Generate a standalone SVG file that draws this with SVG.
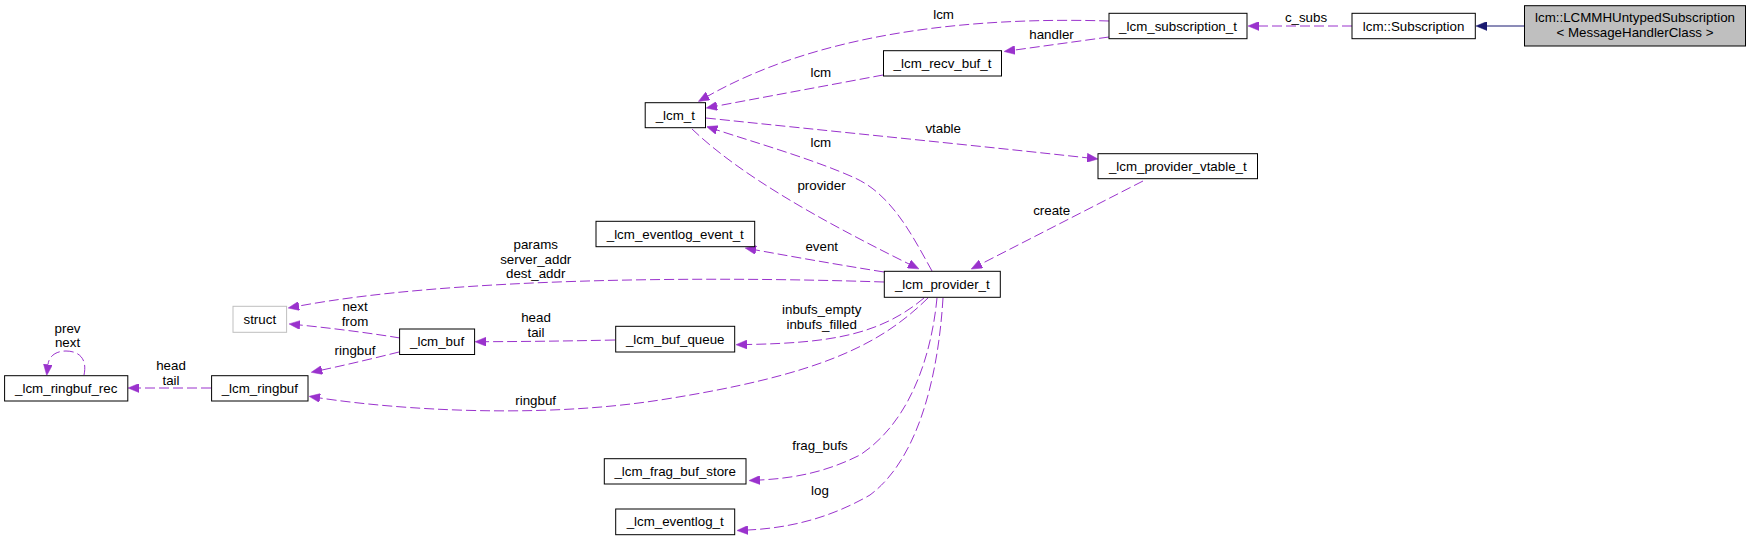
<svg xmlns="http://www.w3.org/2000/svg" width="1749" height="541" viewBox="0 0 1749 541">
<style>
text{font-family:"Liberation Sans",Arial,sans-serif;font-size:13.33px;fill:#000;text-anchor:middle}
.n rect{fill:#fff;stroke:#000;stroke-width:1}
.g rect{fill:#fff;stroke:#bfbfbf;stroke-width:1}
.cur rect{fill:#bfbfbf;stroke:#000;stroke-width:1}
.e{fill:none;stroke:#9a32cd;stroke-width:1;stroke-dasharray:10,4;marker-end:url(#ap)}
.i{fill:none;stroke:#191970;stroke-width:1;marker-end:url(#an)}
</style>
<defs>
<marker id="ap" markerUnits="userSpaceOnUse" viewBox="0 0 11 9" markerWidth="11" markerHeight="9" refX="0" refY="4.5" orient="auto"><path d="M0,0 L11,4.5 L0,9 z" fill="#9a32cd" stroke="#9a32cd" stroke-width="0.5"/></marker>
<marker id="an" markerUnits="userSpaceOnUse" viewBox="0 0 11 9" markerWidth="11" markerHeight="9" refX="0" refY="4.5" orient="auto"><path d="M0,0 L11,4.5 L0,9 z" fill="#191970" stroke="#191970" stroke-width="0.5"/></marker>
</defs>
<rect x="0" y="0" width="1749" height="541" fill="#fff"/>
<g id="connectors">
<path class="i" d="M1524,26 L1487,26"/>
<path class="e" d="M1352,26 L1259,26"/>
<text x="1306" y="21.8">c_subs</text>
<path class="e" d="M1109,21 C980,17 825,30 708,96"/>
<text x="943.6" y="18.5">lcm</text>
<path class="e" d="M1109,37 L1015,50"/>
<text x="1051.5" y="39">handler</text>
<path class="e" d="M883,75 C830,85 770,96 717,106"/>
<text x="820.8" y="76.8">lcm</text>
<path class="e" d="M706,118 C820,130 980,146 1087,157.8"/>
<text x="943.2" y="132.8">vtable</text>
<path class="e" d="M932,271 C912,235 892,195 855,178 C815,160 760,144 717,130"/>
<text x="820.8" y="146.9">lcm</text>
<path class="e" d="M692,129 C740,175 820,220 909,264"/>
<text x="821.5" y="190">provider</text>
<path class="e" d="M1143,181 L981,264"/>
<text x="1051.7" y="215">create</text>
<path class="e" d="M884,272 C840,265 800,258 756,250"/>
<text x="821.7" y="251">event</text>
<path class="e" d="M884,282 C700,276 450,278 299,306"/>
<text x="535.7" y="249">params</text>
<text x="535.7" y="263.5">server_addr</text>
<text x="535.7" y="278">dest_addr</text>
<path class="e" d="M400,338 C370,333 330,328 300,325"/>
<text x="355" y="311">next</text>
<text x="355" y="326">from</text>
<path class="e" d="M615,340 C570,341 530,341.5 486,341.7"/>
<text x="536" y="322">head</text>
<text x="536" y="337">tail</text>
<path class="e" d="M399,352 C375,358 350,364 322,370"/>
<text x="355" y="355">ringbuf</text>
<path class="e" d="M211,388 L139,388"/>
<text x="171" y="370">head</text>
<text x="171" y="385">tail</text>
<path class="e" d="M84,375 C88,356 76,351 66,351 C56,351 49,356 48,364.5"/>
<text x="67.5" y="333">prev</text>
<text x="67.5" y="347">next</text>
<path class="e" d="M924,298 C880,335 830,343 747,344.5"/>
<text x="821.7" y="313.8">inbufs_empty</text>
<text x="821.7" y="328.8">inbufs_filled</text>
<path class="e" d="M928,298 C880,345 820,375 660,400 C540,418.75 400,410 320,398"/>
<text x="535.7" y="405">ringbuf</text>
<path class="e" d="M937,298 C932,350 913,420 860,455 C830,470 800,478 760,480"/>
<text x="820" y="450">frag_bufs</text>
<path class="e" d="M943,298 C938,380 917,460 870,495 C830,518 790,528 748,530"/>
<text x="820" y="495">log</text>
</g>
<g id="node_lcmmh" class="cur"><rect x="1524.5" y="5.7" width="221" height="40.3"/><text x="1635" y="21.8">lcm::LCMMHUntypedSubscription</text><text x="1635" y="37.2">&lt; MessageHandlerClass &gt;</text></g>
<g id="node_subscription" class="n"><rect x="1352" y="13.3" width="123.3" height="25.4"/><text x="1413.6" y="30.5">lcm::Subscription</text></g>
<g id="node_lcm_subscription_t" class="n"><rect x="1109" y="13.3" width="138" height="25.4"/><text x="1178" y="30.5">_lcm_subscription_t</text></g>
<g id="node_lcm_recv_buf_t" class="n"><rect x="883.5" y="50.7" width="118" height="25.3"/><text x="942.5" y="67.8">_lcm_recv_buf_t</text></g>
<g id="node_lcm_t" class="n"><rect x="645.2" y="102.7" width="60.3" height="25"/><text x="675.3" y="119.8">_lcm_t</text></g>
<g id="node_lcm_provider_vtable_t" class="n"><rect x="1098" y="153.7" width="159.5" height="25"/><text x="1177.8" y="170.7">_lcm_provider_vtable_t</text></g>
<g id="node_lcm_eventlog_event_t" class="n"><rect x="596" y="221.3" width="158.7" height="25.4"/><text x="675.3" y="238.5">_lcm_eventlog_event_t</text></g>
<g id="node_lcm_provider_t" class="n"><rect x="884.3" y="271.3" width="116" height="26"/><text x="942.3" y="288.8">_lcm_provider_t</text></g>
<g id="node_struct" class="g"><rect x="233" y="306.3" width="53.6" height="26"/><text x="259.8" y="323.8">struct</text></g>
<g id="node_lcm_buf" class="n"><rect x="399.6" y="329" width="75" height="25.5"/><text x="437.1" y="346.2">_lcm_buf</text></g>
<g id="node_lcm_buf_queue" class="n"><rect x="615.7" y="326.3" width="119" height="25.7"/><text x="675.2" y="343.6">_lcm_buf_queue</text></g>
<g id="node_lcm_ringbuf_rec" class="n"><rect x="4.6" y="375.7" width="123.2" height="25.3"/><text x="66.2" y="392.8">_lcm_ringbuf_rec</text></g>
<g id="node_lcm_ringbuf" class="n"><rect x="211.6" y="375.7" width="96.4" height="25.3"/><text x="259.8" y="392.8">_lcm_ringbuf</text></g>
<g id="node_lcm_frag_buf_store" class="n"><rect x="604.3" y="458.7" width="141.7" height="25.3"/><text x="675.2" y="475.8">_lcm_frag_buf_store</text></g>
<g id="node_lcm_eventlog_t" class="n"><rect x="615.7" y="509" width="119" height="25.7"/><text x="675.2" y="526.3">_lcm_eventlog_t</text></g>
</svg>
